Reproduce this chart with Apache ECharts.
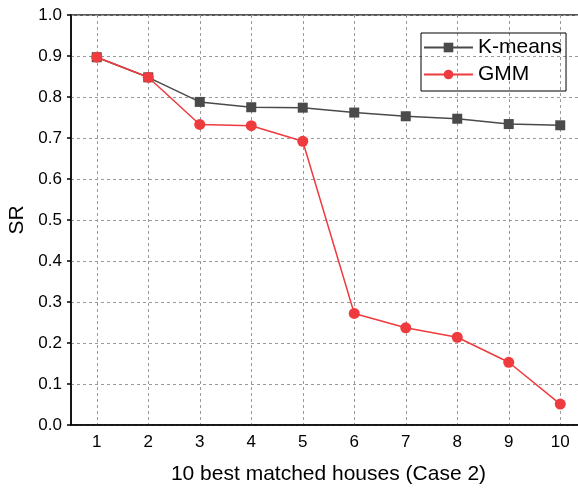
<!DOCTYPE html>
<html>
<head>
<meta charset="utf-8">
<script src="https://cdn.jsdelivr.net/npm/echarts@6/dist/echarts.min.js"></script>
<style>
  html, body { margin: 0; padding: 0; background: #fff; }
  #chart { width: 578px; height: 488px; }
</style>
</head>
<body>
<div id="chart"></div>
<script>
// Number of best matched houses (x categories)
const houses = ['1', '2', '3', '4', '5', '6', '7', '8', '9', '10'];
// Success rate per clustering method
const kmeans = [0.897, 0.848, 0.788, 0.775, 0.774, 0.762, 0.753, 0.747, 0.734, 0.731];
const gmm = [0.897, 0.848, 0.733, 0.730, 0.692, 0.272, 0.237, 0.214, 0.153, 0.051];
// Y axis range and step
const yMin = 0, yMax = 1.0, yStep = 0.1;

const FONT = 'Arial, "Liberation Sans", sans-serif';
const gridLine = { show: true, lineStyle: { color: '#9a9a9a', type: [3, 3], width: 1 } };

const chart = echarts.init(document.getElementById('chart'), null, { renderer: 'canvas' });
chart.setOption({
  animation: false,
  backgroundColor: '#fff',
  grid: {
    left: 71, top: 15, width: 515, height: 410,
    outerBoundsMode: 'none', containLabel: false,
    show: true, borderColor: '#222', borderWidth: 1.5, backgroundColor: 'transparent'
  },
  legend: {
    orient: 'vertical',
    left: 421, top: 33,
    padding: [4, 4, 6, 2],
    itemWidth: 49, itemHeight: 12, itemGap: 6,
    borderColor: '#000', borderWidth: 1,
    textStyle: { fontFamily: FONT, fontSize: 21, color: '#000', lineHeight: 20 },
    data: ['K-means', 'GMM']
  },
  xAxis: {
    type: 'category',
    data: houses,
    boundaryGap: true,
    name: '10 best matched houses (Case 2)',
    nameLocation: 'middle',
    nameGap: 39,
    nameTextStyle: { fontFamily: FONT, fontSize: 21, color: '#000' },
    axisLine: { lineStyle: { color: '#000', width: 1.5 } },
    axisTick: { alignWithLabel: true, inside: true, length: 5, lineStyle: { color: '#000', width: 1.5 } },
    axisLabel: { fontFamily: FONT, fontSize: 17, color: '#000', margin: 9 },
    splitLine: Object.assign({ alignWithLabel: true }, gridLine)
  },
  yAxis: {
    type: 'value',
    min: yMin, max: yMax, interval: yStep,
    name: 'SR',
    nameLocation: 'middle',
    nameGap: 40,
    nameTextStyle: { fontFamily: FONT, fontSize: 21, color: '#000' },
    axisLine: { show: true, lineStyle: { color: '#000', width: 1.5 } },
    axisTick: { show: true, inside: false, length: 4, lineStyle: { color: '#000', width: 1.5 } },
    axisLabel: { fontFamily: FONT, fontSize: 17, color: '#000', margin: 9,
      formatter: v => v.toFixed(1) },
    splitLine: gridLine
  },
  series: [
    {
      name: 'K-means', type: 'line', data: kmeans,
      symbol: 'rect', symbolSize: 10,
      itemStyle: { color: '#4a4a4a' },
      lineStyle: { color: '#4a4a4a', width: 1.5 },
      z: 2
    },
    {
      name: 'GMM', type: 'line', data: gmm,
      symbol: 'circle', symbolSize: 11,
      itemStyle: { color: '#ef3a3e' },
      lineStyle: { color: '#ef3a3e', width: 1.5 },
      z: 3
    }
  ]
});
</script>
</body>
</html>
